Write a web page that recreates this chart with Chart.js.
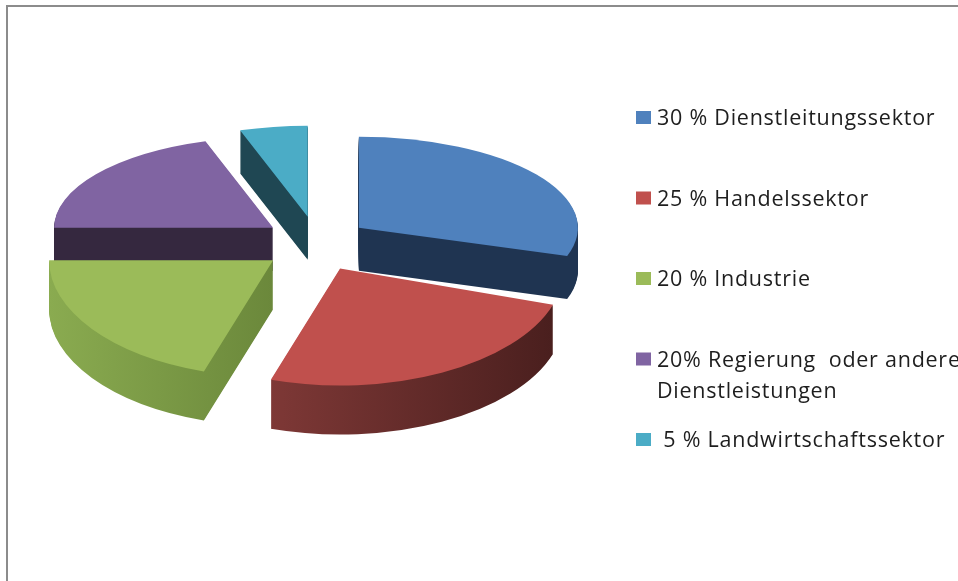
<!DOCTYPE html>
<html>
<head>
<meta charset="utf-8">
<script src="https://cdn.jsdelivr.net/npm/chart.js@4.4.0/dist/chart.umd.min.js"></script>
<style>
  html, body { margin: 0; padding: 0; background: #fff; }
  #wrap { position: relative; width: 958px; height: 581px; }
</style>
</head>
<body>
<div id="wrap"><canvas id="sectorChart"></canvas></div>
<script>
// Anteile der Beschaeftigten nach Sektor (in %)
const sectors = ['Dienstleitungssektor', 'Handelssektor', 'Industrie', 'Regierung oder andere Dienstleistungen', 'Landwirtschaftssektor'];
const shares = [30, 25, 20, 20, 5];
const legendLabels = [
  ['30 % Dienstleitungssektor'],
  ['25 % Handelssektor'],
  ['20 % Industrie'],
  ['20% Regierung  oder andere', 'Dienstleistungen'],
  [' 5 % Landwirtschaftssektor']
];

const topColors = ['#4f81bd', '#c0504d', '#9bbb59', '#8064a2', '#4bacc6'];
// side colours: [left, right] of a horizontal shading
const sideColors = [
  ['#1f3451', '#1f3451'],
  ['#7e3836', '#4a1f1e'],
  ['#8aab50', '#6b883b'],
  ['#35283f', '#35283f'],
  ['#1f4753', '#1f4753']
];

// fake 3d: squash every arc into an ellipse, explode it and stack a darker body below
const pie3d = {
  id: 'pie3d',
  beforeDraw(chart) {
    const ctx = chart.ctx;
    ctx.save();
    ctx.fillStyle = '#8c8c8c';
    ctx.fillRect(6, 5, chart.width - 6, 2);
    ctx.fillRect(6, 5, 2, chart.height - 5);
    ctx.restore();
  },
  beforeDatasetsDraw(chart) {
    const ctx = chart.ctx;
    const arcs = chart.getDatasetMeta(0).data;
    const cx = 316, cy = 244;
    const explodeX = 53, explodeY = 27.5;

    const mid = a => (a.startAngle + a.endAngle) / 2;
    const order = arcs.map((a, i) => i).sort((i, j) => Math.sin(mid(arcs[i])) - Math.sin(mid(arcs[j])));

    order.forEach(i => {
      const a = arcs[i];
      const m = mid(a);
      const front = Math.sin(m) > 0;
      const rx = front ? 224 : 219;
      const ry = front ? 117 : 91;
      const depth = front ? 49 : 43;
      const R = a.outerRadius;
      const ox = cx + explodeX * Math.cos(m);
      const oy = cy + explodeY * Math.sin(m);

      const place = dy => {
        ctx.translate(ox, oy + dy);
        ctx.scale(rx / R, ry / R);
        ctx.translate(-a.x, -a.y);
      };

      // x extent of the slice, for the side shading
      let xmin = 0, xmax = 0;
      for (let k = 0; k <= 40; k++) {
        const c = Math.cos(a.startAngle + (a.endAngle - a.startAngle) * k / 40);
        xmin = Math.min(xmin, c);
        xmax = Math.max(xmax, c);
      }
      const grad = ctx.createLinearGradient(a.x + xmin * R, 0, a.x + xmax * R, 0);
      grad.addColorStop(0, sideColors[i][0]);
      grad.addColorStop(1, sideColors[i][1]);

      const saved = a.options;
      a.options = Object.assign({}, saved, { backgroundColor: grad, borderWidth: 0, offset: 0 });
      for (let dy = depth; dy >= 1; dy--) {
        ctx.save();
        place(dy);
        a.draw(ctx);
        ctx.restore();
      }
      a.options = saved;

      ctx.save();
      place(0);
      a.draw(ctx);
      ctx.restore();
    });
    return false;
  },
  afterDraw(chart) {
    const ctx = chart.ctx;
    ctx.save();
    ctx.font = '21.5px "Open Sans"';
    ctx.letterSpacing = '0.75px';
    ctx.textBaseline = 'alphabetic';
    legendLabels.forEach((lines, i) => {
      const top = 111 + i * 80.5;
      ctx.fillStyle = topColors[i];
      ctx.fillRect(636, top, 15, 13);
      ctx.fillStyle = '#1e1e1e';
      lines.forEach((t, l) => ctx.fillText(t, 657, top + 14 + l * 31));
    });
    ctx.restore();
  }
};

new Chart(document.getElementById('sectorChart'), {
  type: 'pie',
  data: {
    labels: sectors,
    datasets: [{
      data: shares,
      backgroundColor: topColors,
      borderWidth: 0
    }]
  },
  options: {
    responsive: true,
    maintainAspectRatio: false,
    animation: false,
    events: [],
    plugins: {
      legend: { display: false },
      tooltip: { enabled: false }
    }
  },
  plugins: [pie3d]
});
</script>
</body>
</html>
